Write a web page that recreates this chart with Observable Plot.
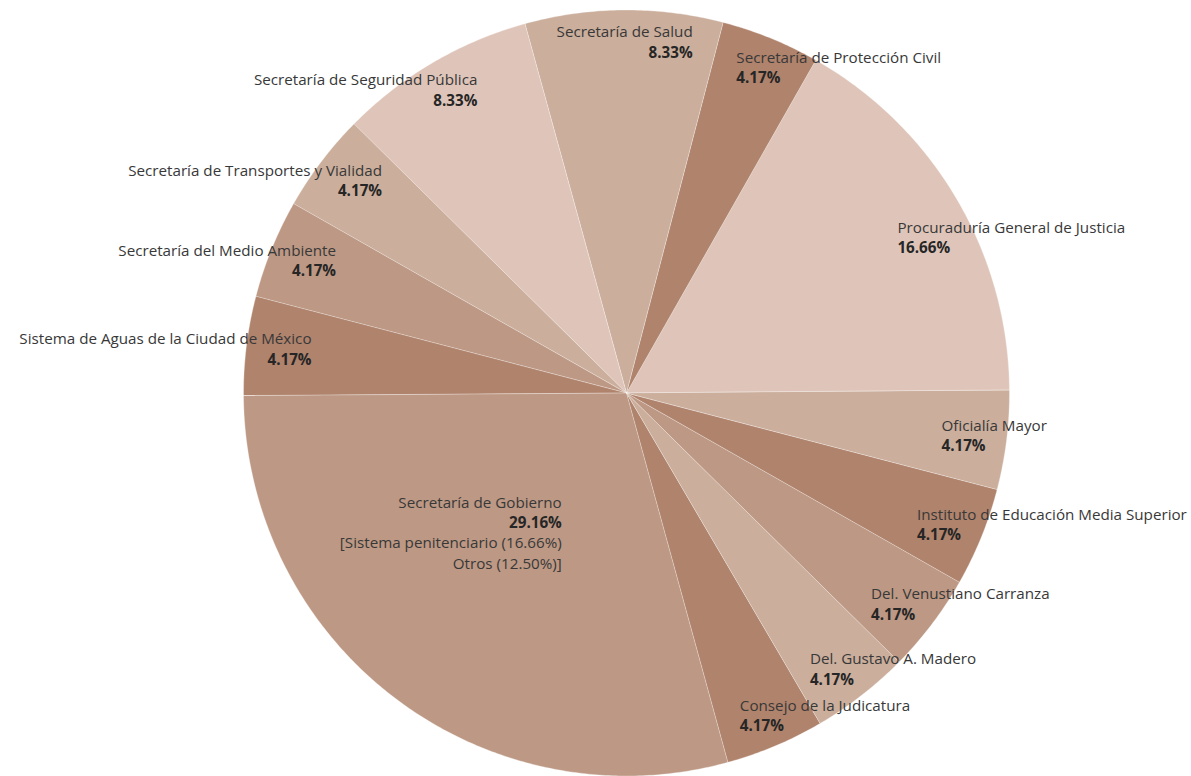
<!DOCTYPE html>
<html><head><meta charset="utf-8">
<script src="https://cdn.jsdelivr.net/npm/d3@7"></script>
<script src="https://cdn.jsdelivr.net/npm/@observablehq/plot@0.6"></script>
<style>
html,body{margin:0;padding:0;background:#fff;}
#chart{width:1191px;height:776px;overflow:hidden;}
</style></head><body><div id="chart"></div>
<script>
// ---- data (counter-clockwise from 3 o'clock) ----
const names = [
  "Procuraduría General de Justicia",
  "Secretaría de Protección Civil",
  "Secretaría de Salud",
  "Secretaría de Seguridad Pública",
  "Secretaría de Transportes y Vialidad",
  "Secretaría del Medio Ambiente",
  "Sistema de Aguas de la Ciudad de México",
  "Secretaría de Gobierno",
  "Consejo de la Judicatura",
  "Del. Gustavo A. Madero",
  "Del. Venustiano Carranza",
  "Instituto de Educación Media Superior",
  "Oficialía Mayor"
];
const shares = [16.66, 4.17, 8.33, 8.33, 4.17, 4.17, 4.17, 29.16, 4.17, 4.17, 4.17, 4.17, 4.17];
const notes = [[], [], [], [], [], [], [], ["[Sistema penitenciario (16.66%)", "Otros (12.50%)]"], [], [], [], [], []];

// ---- style ----
const palette = ["#dfc5b9", "#b0836c", "#cbae9c", "#dfc5b9", "#cbae9c", "#bd9884", "#b0836c",
                 "#bd9884", "#b0836c", "#cbae9c", "#bd9884", "#b0836c", "#cbae9c"];
const W = 1191, H = 776, CX = 626, CY = 392.5, R = 383, ROT = 0.007;
const FONT = "'Open Sans', sans-serif", FS = 15.2, LH = 20.3;

const pie = d3.pie().sort(null).value(d => d)(shares);
const total = d3.sum(shares);

// slice outlines from pie angles
const slicePts = [];
names.forEach((n, i) => {
  const a0 = pie[i].startAngle + ROT, a1 = pie[i].endAngle + ROT;
  slicePts.push({name: n, x: 0, y: 0});
  const steps = Math.max(2, Math.ceil((a1 - a0) / (Math.PI / 360)));
  for (let k = 0; k <= steps; k++) {
    const a = a0 + (a1 - a0) * k / steps;
    slicePts.push({name: n, x: Math.cos(a), y: Math.sin(a)});
  }
});

const ctx = document.createElement("canvas").getContext("2d");
function measure(t, bold) { ctx.font = `${bold ? "bold " : ""}${FS}px ${FONT}`; return ctx.measureText(t).width; }

// label rows: anchor on an ellipse at each slice's mid-angle
const rows = [];
names.forEach((n, i) => {
  const mid = ROT + (pie[i].startAngle + pie[i].endAngle) / 2;
  const c = Math.cos(mid), s = Math.sin(mid);
  const frac = shares[i] / total;
  let rx, ry;
  if (frac > 0.25) { rx = 0.28; ry = 0.46; }          // inner label for the largest slice
  else if (frac > 0.1) { rx = 0.82; ry = 0.8; }
  else { rx = 0.83 - 0.08 * s * s; ry = 0.915; }
  const ax = rx * c, ay = ry * s;
  const lines = [{text: n, bold: false}, {text: shares[i].toFixed(2) + "%", bold: true},
                 ...notes[i].map(t => ({text: t, bold: false}))];
  const anchor = c > 0.1 ? "start" : "end";
  let x = ax;
  if (Math.abs(c) <= 0.1) {
    const w = d3.max(lines, l => measure(l.text, l.bold));
    x = ax + (w / 2) / R;
  }
  lines.forEach((l, j) => rows.push({
    text: l.text, bold: l.bold, anchor, x,
    y: ay - ((j - (lines.length - 1) / 2) * LH) / R
  }));
});

const textMark = (anchor, bold) => Plot.text(rows.filter(r => r.anchor === anchor && r.bold === bold), {
  x: "x", y: "y", text: "text", textAnchor: anchor,
  fill: bold ? "#262626" : "#383838", fontWeight: bold ? "bold" : "normal"
});

const chart = Plot.plot({
  width: W, height: H, margin: 0,
  x: {domain: [-CX / R, (W - CX) / R], axis: null},
  y: {domain: [-(H - CY) / R, CY / R], axis: null},
  color: {domain: names, range: palette},
  style: {fontFamily: FONT, fontSize: FS + "px", background: "white"},
  marks: [
    Plot.line(slicePts, {x: "x", y: "y", z: "name", fill: "name", stroke: "#ffffff",
                         strokeOpacity: 0.45, strokeWidth: 0.7, curve: "linear-closed"}),
    textMark("start", false), textMark("start", true),
    textMark("end", false), textMark("end", true)
  ]
});
document.getElementById("chart").appendChild(chart);
</script></body></html>
